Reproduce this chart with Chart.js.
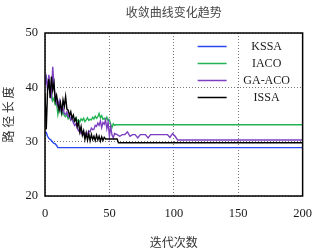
<!DOCTYPE html>
<html>
<head>
<meta charset="utf-8">
<script src="https://cdn.jsdelivr.net/npm/chart.js@4/dist/chart.umd.min.js"></script>
<style>
  html, body { margin: 0; padding: 0; background: #fff; }
</style>
</head>
<body>
<canvas id="conv-chart" width="322" height="250"></canvas>
<script>
var seriesNames = ['KSSA', 'IACO', 'GA-ACO', 'ISSA'];
var xTicks = [0, 50, 100, 150, 200];
var yTicks = [20, 30, 40, 50];

// iteration / path length pairs
var kssaIter = [0, 1, 2, 3, 4, 5, 6, 7, 8, 9, 10, 200];
var kssaVals = [31.8, 31.7, 31.0, 30.6, 30.4, 30.2, 29.9, 29.7, 29.6, 29.3, 28.9, 28.9];

var iacoIter = [0, 1, 2, 3, 4, 5, 6, 7, 8, 9, 10, 11, 12, 13, 14, 15, 16, 17, 18, 19,
    20, 21, 22, 23, 24, 25, 26, 27, 28, 29, 30, 31, 32, 33, 34, 35, 36, 37, 38, 39,
    40, 41, 42, 43, 44, 45, 46, 47, 48, 49, 50, 51, 52, 53, 54, 55, 200];
var iacoVals = [41.7, 42.0, 40.5, 41.2, 39.5, 38.9, 37.5, 38.0, 36.8, 37.1, 35.0, 36.2, 35.8, 35.0, 35.4, 34.8, 34.6, 35.0, 34.2, 34.6,
    34.0, 34.3, 33.7, 34.1, 34.4, 33.8, 34.0, 33.6, 34.2, 33.9, 34.3, 33.7, 34.0, 34.4, 33.9, 34.1, 34.0, 34.5, 34.2, 34.7,
    34.3, 34.6, 35.2, 34.4, 34.8, 34.1, 34.3, 34.0, 34.5, 33.9, 34.0, 33.2, 32.6, 33.3, 33.0, 33.1, 33.1];

var gaIter = [0, 1, 2, 3, 4, 5, 6, 7, 8, 9, 10, 11, 12, 13, 14, 15, 16, 17, 18, 19,
    20, 21, 22, 23, 24, 25, 26, 27, 28, 29, 30, 31, 32, 33, 34, 35, 36, 37, 38, 39,
    40, 41, 42, 43, 44, 45, 46, 47, 48, 49, 50, 51, 52, 53, 54, 56, 58, 60, 62, 64,
    66, 68, 70, 72, 74, 78, 80, 82, 95, 97, 99, 101, 103, 200];
var gaVals = [40.5, 41.8, 39.5, 42.3, 40.0, 38.5, 43.8, 40.0, 38.0, 37.2, 36.5, 37.5, 36.0, 35.5, 36.2, 35.2, 35.0, 35.5, 34.6, 34.8,
    34.0, 34.4, 33.5, 33.0, 33.3, 32.5, 32.0, 32.2, 31.5, 31.8, 31.3, 31.6, 31.0, 31.4, 32.0, 31.8, 32.5, 32.2, 32.3, 33.0,
    32.8, 33.4, 33.0, 33.8, 32.6, 33.5, 33.2, 34.0, 32.4, 33.6, 31.0, 32.8, 31.2, 30.7, 31.5, 31.3, 31.0, 31.3, 31.3, 31.8,
    31.0, 31.3, 31.3, 30.7, 31.3, 31.3, 30.7, 31.3, 31.3, 30.8, 31.5, 31.0, 30.3, 30.3];

var issaIter = [0, 1, 2, 3, 4, 5, 6, 7, 8, 9, 10, 11, 12, 13, 14, 15, 16, 17, 18, 19,
    20, 21, 22, 23, 24, 25, 26, 27, 28, 29, 30, 31, 32, 33, 34, 35, 36, 37, 38, 39,
    40, 41, 42, 43, 44, 45, 46, 47, 48, 52, 56, 57, 200];
var issaVals = [38.8, 32.3, 39.5, 41.5, 38.0, 42.0, 39.5, 40.8, 37.5, 38.5, 37.0, 35.8, 37.2, 35.5, 37.7, 36.5, 38.3, 36.0, 35.8, 34.8,
    35.5, 34.3, 34.9, 33.8, 34.3, 32.8, 33.6, 31.8, 32.8, 31.2, 32.0, 30.4, 31.6, 30.3, 31.5, 30.2, 31.3, 30.4, 31.0, 30.2,
    31.2, 30.3, 31.0, 30.1, 30.9, 30.2, 30.8, 30.5, 30.5, 30.5, 30.5, 29.8, 29.8];

var seriesColors = ['#2a46ee', '#22b352', '#7b3fc0', '#000000'];

function pairs(xs, ys) {
    return xs.map(function (x, i) { return { x: x, y: ys[i] }; });
}

var allSeries = [
    pairs(kssaIter, kssaVals),
    pairs(iacoIter, iacoVals),
    pairs(gaIter, gaVals),
    pairs(issaIter, issaVals)
];

var serif = "'Liberation Serif', 'DejaVu Serif', serif";
var cjk = "'Noto Sans CJK SC', sans-serif";

// full black frame round the plot area
var frame = {
    id: 'frame',
    afterDraw: function (chart) {
        var a = chart.chartArea, c = chart.ctx;
        c.save();
        c.strokeStyle = '#000';
        c.lineWidth = 1.5;
        c.strokeRect(a.left, a.top, a.right - a.left, a.bottom - a.top);
        c.restore();
    }
};

// legend sits inside the plot, no box, labels centred
var innerLegend = {
    id: 'innerLegend',
    afterDraw: function (chart) {
        var c = chart.ctx, a = chart.chartArea;
        c.save();
        c.font = '12px ' + serif;
        c.textAlign = 'center';
        c.textBaseline = 'middle';
        chart.data.datasets.forEach(function (ds, i) {
            var y = a.top + 13.5 + i * 17;
            c.strokeStyle = ds.borderColor;
            c.lineWidth = 1.5;
            c.beginPath();
            c.moveTo(a.right - 105, y);
            c.lineTo(a.right - 76, y);
            c.stroke();
            c.fillStyle = '#1a1a1a';
            c.fillText(ds.label, a.right - 36, y + 0.5);
        });
        c.restore();
    }
};

var ctx = document.getElementById('conv-chart').getContext('2d');
var chart = new Chart(ctx, {
    type: 'line',
    data: {
        datasets: seriesNames.map(function (name, i) {
            return {
                label: name,
                data: allSeries[i],
                borderColor: seriesColors[i],
                backgroundColor: seriesColors[i],
                borderWidth: 1.4,
                pointRadius: 0,
                tension: 0,
                fill: false,
                order: 3 - i
            };
        })
    },
    options: {
        responsive: false,
        animation: false,
        layout: { padding: { left: 0, right: 9, top: 0, bottom: 0 } },
        plugins: {
            legend: { display: false },
            tooltip: { enabled: false },
            title: {
                display: true,
                text: '收敛曲线变化趋势',
                fullSize: false,
                color: '#444',
                font: { family: cjk, size: 12, weight: 'normal' },
                padding: { top: 5, bottom: 13.6 }
            }
        },
        scales: {
            x: {
                type: 'linear',
                min: 0,
                max: 200,
                afterBuildTicks: function (s) { s.ticks = xTicks.map(function (v) { return { value: v }; }); },
                afterFit: function (s) { s.height = 54; },
                ticks: {
                    color: '#1a1a1a',
                    font: { family: serif, size: 12.5 },
                    padding: 10,
                    maxRotation: 0
                },
                grid: { color: '#777', lineWidth: 1, drawTicks: false },
                border: { display: false, dash: [1, 2] },
                title: {
                    display: true,
                    text: '迭代次数',
                    color: '#333',
                    font: { family: cjk, size: 12 },
                    padding: { top: 4, bottom: 0 }
                }
            },
            y: {
                min: 20,
                max: 50,
                afterBuildTicks: function (s) { s.ticks = yTicks.map(function (v) { return { value: v }; }); },
                afterFit: function (s) { s.width = 45; },
                ticks: {
                    color: '#1a1a1a',
                    font: { family: serif, size: 12.5 },
                    padding: 7
                },
                grid: { color: '#777', lineWidth: 1, drawTicks: false },
                border: { display: false, dash: [1, 2] },
                title: {
                    display: true,
                    text: '路 径 长 度',
                    color: '#333',
                    font: { family: cjk, size: 12 },
                    padding: { top: 1, bottom: 2 }
                }
            }
        }
    },
    plugins: [frame, innerLegend]
});
</script>
</body>
</html>
